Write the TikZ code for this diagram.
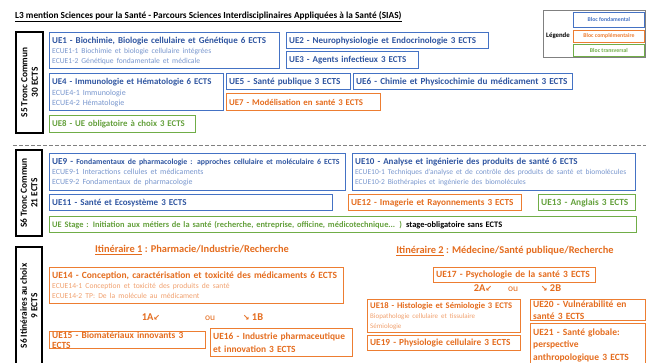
\documentclass[tikz,border=0pt]{standalone}
\usepackage{fontspec}
\setmainfont{Carlito}
\newfontfamily\flechefont{DejaVu Sans}
\definecolor{bleu}{RGB}{68,114,196}
\definecolor{bleutxt}{RGB}{47,85,160}
\definecolor{bleuclair}{RGB}{120,150,205}
\definecolor{orange}{RGB}{237,125,49}
\definecolor{orangetxt}{RGB}{228,108,30}
\definecolor{orangeclair}{RGB}{240,160,110}
\definecolor{vert}{RGB}{112,173,71}
\definecolor{verttxt}{RGB}{100,160,60}
\newcommand{\ecue}[3][7.6]{{\fontsize{#1}{8}\selectfont\mdseries\color{#2}#3}}
\newcommand{\fleche}[1]{{\flechefont\fontsize{8}{9}\selectfont #1}}
\begin{document}
\begin{tikzpicture}[x=1pt,y=-1pt,
  fs/.style={font=\fontsize{#1}{10}\selectfont\bfseries},
  ue/.style={draw, line width=1.3pt, anchor=north west, align=left, inner xsep=2.5pt, inner ysep=0pt, fs=9.2},
  fond/.style={ue, draw=bleu, text=bleutxt},
  compl/.style={ue, draw=orange, text=orangetxt},
  transv/.style={ue, draw=vert, text=verttxt},
  sem/.style={draw, line width=1.4pt, rotate=90, align=center, inner sep=0pt, font=\fontsize{9.3}{10.5}\selectfont\bfseries},
  legbox/.style={draw, line width=0.8pt, anchor=north west, minimum width=71pt, inner sep=0pt, font=\fontsize{5.8}{6}\selectfont\bfseries},
  itin/.style={text=orangetxt, font=\fontsize{10.4}{12}\selectfont\bfseries},
  choix/.style={text=orangetxt, inner sep=0pt, font=\fontsize{10.4}{12}\selectfont\bfseries},
  sep/.style={draw=gray, line width=0.8pt, dash pattern=on 3.5pt off 2.5pt}]
\useasboundingbox (0,0) rectangle (646,363);
\clip (0,0) rectangle (646,363);
\node[anchor=west, inner sep=0pt, font=\fontsize{9.3}{10}\selectfont\bfseries] (titre) at (15,17) {\underline{L3 mention Sciences pour la Santé - Parcours Sciences Interdisciplinaires Appliquées à la Santé (SIAS)}};
% legende
\node[draw=gray, line width=0.6pt, anchor=north west, minimum width=102pt, minimum height=47pt] (leg) at (543,10) {};
\node[font=\fontsize{6.8}{7}\selectfont\bfseries, inner sep=0pt] (legtxt) at (558,36) {Légende};
\node[legbox, draw=bleu, text=bleu, minimum height=15pt] (lfond) at (573,12) {Bloc fondamental};
\node[legbox, draw=orange, text=orange, minimum height=12pt] (lcompl) at (573,30) {Bloc complémentaire};
\node[legbox, draw=vert, text=vert, minimum height=12pt] (ltransv) at (573,44) {Bloc transversal};
% S5
\node[sem, minimum width=101pt, minimum height=27pt] (s5) at (29.5,82.5) {S5 Tronc Commun\\30 ECTS};
\node[fond, text width=225pt, minimum height=36pt, fs=9] (ue1) at (49,32) {UE1 - Biochimie, Biologie cellulaire et Génétique 6 ECTS\\\ecue{bleuclair}{ECUE1-1 Biochimie et biologie cellulaire intégrées}\\\ecue{bleuclair}{ECUE1-2 Génétique fondamentale et médicale}};
\node[fond, text width=197pt, minimum height=16pt, fs=9] (ue2) at (286,32) {UE2 - Neurophysiologie et Endocrinologie 3 ECTS};
\node[fond, text width=127pt, minimum height=17pt, fs=9] (ue3) at (286,51) {UE3 - Agents infectieux 3 ECTS};
\node[fond, text width=169pt, minimum height=37pt, fs=8.8] (ue4) at (49,73) {UE4 - Immunologie et Hématologie 6 ECTS\\[1pt]\ecue[8]{bleuclair}{ECUE4-1 Immunologie}\\\ecue[8]{bleuclair}{ECUE4-2 Hématologie}};
\node[fond, text width=119pt, minimum height=16pt] (ue5) at (226,73) {UE5 - Santé publique 3 ECTS};
\node[fond, text width=214pt, minimum height=16pt] (ue6) at (353,73) {UE6 - Chimie et Physicochimie du médicament 3 ECTS};
\node[compl, text width=149pt, minimum height=17pt, fs=8.8] (ue7) at (226,93) {UE7 - Modélisation en santé 3 ECTS};
\node[transv, text width=141pt, minimum height=17pt, fs=8.8] (ue8) at (49,115) {UE8 - UE obligatoire à choix 3 ECTS};
%
\draw[sep] (13,145) -- (646,145);
% S6 tronc commun
\node[sem, minimum width=86pt, minimum height=26pt] (s6tc) at (29,193) {S6 Tronc Commun\\21 ECTS};
\node[fond, text width=291pt, minimum height=37pt] (ue9) at (49,153) {UE9 - {\fontsize{7.8}{10}\selectfont Fondamentaux de pharmacologie : approches cellulaire et moléculaire 6 ECTS}\\\ecue[7.9]{bleuclair}{ECUE9-1 Interactions cellules et médicaments}\\\ecue[7.9]{bleuclair}{ECUE9-2 Fondamentaux de pharmacologie}};
\node[fond, text width=278pt, minimum height=37pt, fs=9] (ue10) at (352,153) {UE10 - Analyse et ingénierie des produits de santé 6 ECTS\\\ecue[7.5]{bleuclair}{ECUE10-1 Techniques d’analyse et de contrôle des produits de santé et biomolécules}\\\ecue[7.5]{bleuclair}{ECUE10-2 Biothérapies et ingénierie des biomolécules}};
\node[fond, text width=278pt, minimum height=16pt, fs=9] (ue11) at (49,194) {UE11 - Santé et Ecosystème 3 ECTS};
\node[compl, text width=168pt, minimum height=16pt] (ue12) at (348,194) {UE12 - Imagerie et Rayonnements 3 ECTS};
\node[transv, text width=92pt, minimum height=16pt, fs=9.4] (ue13) at (538,194) {UE13 - Anglais 3 ECTS};
\node[transv, text width=582pt, minimum height=16pt, fs=8.4] (stage) at (49,216) {UE Stage : Initiation aux métiers de la santé (recherche, entreprise, officine, médicotechnique... ) {\color{black}stage-obligatoire sans ECTS}};
% S6 itineraires
\node[sem, minimum width=118pt, minimum height=26pt] (s6it) at (29,306) {S6 Itinéraires au choix\\9 ECTS};
\node[itin] (it1) at (192,250) {\underline{Itinéraire 1} : Pharmacie/Industrie/Recherche};
\node[itin] (it2) at (505,251) {\underline{Itinéraire 2} : Médecine/Santé publique/Recherche};
\node[compl, text width=289pt, minimum height=36pt, fs=9.5] (ue14) at (49,267) {UE14 - Conception, caractérisation et toxicité des médicaments 6 ECTS\\\ecue{orangeclair}{ECUE14-1 Conception et toxicité des produits de santé}\\\ecue{orangeclair}{ECUE14-2 TP: De la molécule au médicament}};
\node[choix] (c1a) at (151,317) {1A\fleche{↙}};
\node[choix, font=\fontsize{9.5}{10}\selectfont] (ou1) at (210,318) {ou};
\node[choix] (c1b) at (253,317) {\fleche{↘} 1B};
\node[compl, text width=151pt, minimum height=15pt, fs=9.4] (ue15) at (49,331) {UE15 - Biomatériaux innovants 3 ECTS};
\node[compl, text width=137pt, minimum height=28pt, fs=9.4] (ue16) at (210,328) {UE16 - Industrie pharmaceutique\\[3pt]et innovation 3 ECTS};
\node[compl, text width=157pt, minimum height=15pt, fs=9.5] (ue17) at (433,267) {UE17 - Psychologie de la santé 3 ECTS};
\node[choix] (c2a) at (483,288) {2A\fleche{↙}};
\node[choix, font=\fontsize{9.5}{10}\selectfont] (ou2) at (513,289) {ou};
\node[choix] (c2b) at (551,288) {\fleche{↘} 2B};
\node[compl, text width=148pt, minimum height=33pt, fs=8.6] (ue18) at (367,299) {UE18 - Histologie et Sémiologie 3 ECTS\\\ecue[7]{orangeclair}{Biopathologie cellulaire et tissulaire}\\\ecue[7]{orangeclair}{Sémiologie}};
\node[compl, text width=148pt, minimum height=15pt, fs=9.3] (ue19) at (367,335) {UE19 - Physiologie cellulaire 3 ECTS};
\node[compl, text width=110pt, minimum height=21pt, fs=9.5] (ue20) at (530,299) {UE20 - Vulnérabilité en\\[2pt]santé 3 ECTS};
\node[compl, text width=110pt, minimum height=43pt, fs=9.5] (ue21) at (530,323) {UE21 - Santé globale:\\[2.5pt]perspective\\[2.5pt]anthropologique 3 ECTS};
\end{tikzpicture}
\end{document}
